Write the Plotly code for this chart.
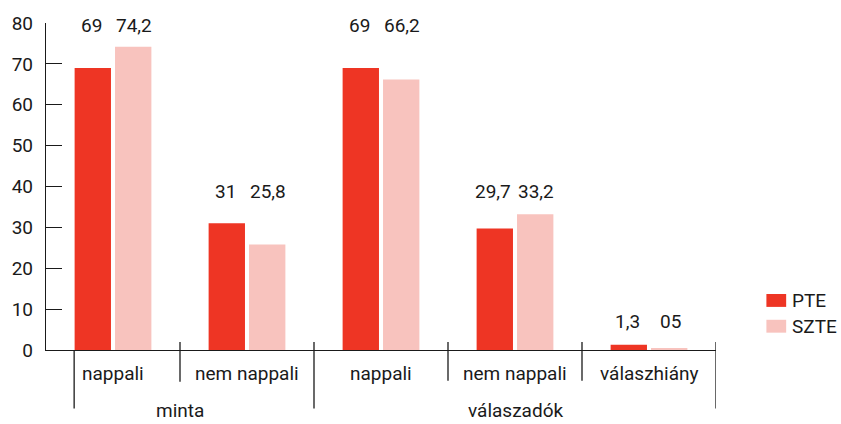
import plotly.graph_objects as go

categories = ["nappali", "nem nappali", "nappali ", "nem nappali ", "válaszhiány"]
sub_labels = ["nappali", "nem nappali", "nappali", "nem nappali", "válaszhiány"]
groups = ["minta", "válaszadók"]
pte = [69, 31, 69, 29.7, 1.3]
szte = [74.2, 25.8, 66.2, 33.2, 0.5]
pte_text = ["69", "31", "69", "29,7", "1,3"]
szte_text = ["74,2", "25,8", "66,2", "33,2", "05"]
y_ticks = [0, 10, 20, 30, 40, 50, 60, 70, 80]

RED = "#EE3524"
PINK = "#F8C3BE"
TXT = "#1a1a1a"
FONT = "Roboto, Arial, sans-serif"
FS = 19

fig = go.Figure()
fig.add_trace(go.Bar(x=categories, y=pte, name="PTE", marker=dict(color=RED, line=dict(width=0)), showlegend=False))
fig.add_trace(go.Bar(x=categories, y=szte, name="SZTE", marker=dict(color=PINK, line=dict(width=0)), showlegend=False))

# plot area: x 38..716, y 20..350 (pixels)
def py(p):
    return (350 - p) / 330.0

label_y = [80, 38.8, 80, 38.8, 7.0]
label_shift = [-2, 0, -2, 0, 0]
ann = []
for i in range(5):
    ann.append(dict(x=i, y=label_y[i], xref="x", yref="y", text=pte_text[i], showarrow=False,
                    xshift=-22, yshift=label_shift[i], font=dict(size=FS, color=TXT, family=FONT)))
    ann.append(dict(x=i, y=label_y[i], xref="x", yref="y", text=szte_text[i], showarrow=False,
                    xshift=21, yshift=label_shift[i], font=dict(size=FS, color=TXT, family=FONT)))
    ann.append(dict(x=i, y=py(374), xref="x", yref="paper", text=sub_labels[i], showarrow=False,
                    yanchor="middle", font=dict(size=FS, color=TXT, family=FONT)))
group_x = [0.5, 3.0]
for gx, g in zip(group_x, groups):
    ann.append(dict(x=gx, y=py(411), xref="x", yref="paper", text=g, showarrow=False,
                    yanchor="middle", font=dict(size=FS, color=TXT, family=FONT)))

shapes = []
# separators
seps = [(-0.29, 350, 409), (0.5, 342, 382), (1.5, 342, 409), (2.5, 342, 381), (3.5, 342, 381), (4.5, 342, 409)]
for sx, y0, y1 in seps:
    shapes.append(dict(type="line", xref="x", yref="paper", x0=sx, x1=sx, y0=py(y0), y1=py(y1),
                       line=dict(color=TXT, width=1.3)))

# manual legend
leg_items = [("PTE", RED, 300), ("SZTE", PINK, 326)]
for name, col, cy in leg_items:
    shapes.append(dict(type="rect", xref="paper", yref="paper",
                       x0=(767 - 38) / 678.0, x1=(787 - 38) / 678.0,
                       y0=py(cy + 6.5), y1=py(cy - 6.5), fillcolor=col, line=dict(width=0)))
    ann.append(dict(x=(791 - 38) / 678.0, y=py(cy), xref="paper", yref="paper", text=name,
                    showarrow=False, xanchor="left", yanchor="middle",
                    font=dict(size=FS, color=TXT, family=FONT)))

fig.update_layout(
    width=841, height=424,
    margin=dict(l=38, r=125, t=20, b=74),
    paper_bgcolor="white", plot_bgcolor="white",
    barmode="group", bargap=0.397, bargroupgap=0.1,
    font=dict(family=FONT, size=FS, color=TXT),
    xaxis=dict(type="category", range=[-0.5, 4.5], showticklabels=False, ticks="",
               showline=True, linecolor=TXT, linewidth=1.3, showgrid=False, zeroline=False,
               fixedrange=True),
    yaxis=dict(range=[0, 80], tickvals=y_ticks, ticks="inside", ticklen=16, tickwidth=1.3,
               tickcolor=TXT, showline=True, linecolor=TXT, linewidth=1.3, showgrid=False,
               zeroline=False, ticklabelstandoff=8, fixedrange=True,
               tickfont=dict(size=FS, color=TXT, family=FONT)),
    annotations=ann, shapes=shapes,
)

fig.write_html("out.html", config={"displayModeBar": False},
               post_script="document.body.style.margin='0';")
